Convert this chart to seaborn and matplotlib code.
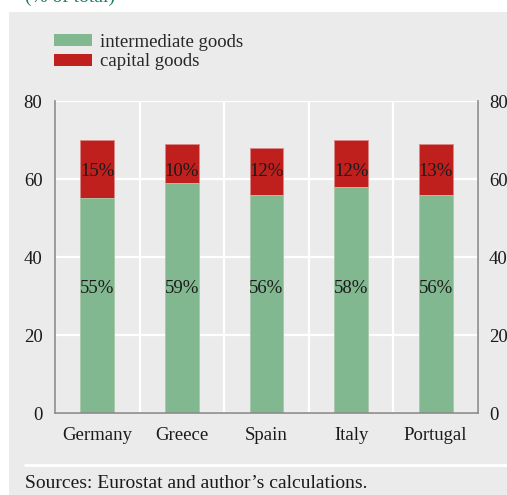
import matplotlib
matplotlib.use("Agg")
import matplotlib.pyplot as plt
from matplotlib.patches import Rectangle, Patch
from matplotlib.ticker import FixedLocator
import pandas as pd
import seaborn as sns

countries = ["Germany", "Greece", "Spain", "Italy", "Portugal"]
intermediate = [55, 59, 56, 58, 56]
capital = [15, 10, 12, 12, 13]
yticks = [0, 20, 40, 60, 80]

GREEN = "#82b890"
RED = "#c0201d"
PANEL = "#ebebeb"
SPINE = "#8c8c8c"
INK = "#1a1a1a"

sns.set_style("white")
plt.rcParams["font.family"] = ["Liberation Serif", "DejaVu Serif"]

df = pd.DataFrame({
    "country": countries,
    "intermediate": intermediate,
    "capital": capital,
})
df["total"] = df["intermediate"] + df["capital"]

W, H = 507, 495
fig = plt.figure(figsize=(W / 100, H / 100), dpi=100)
fig.patch.set_facecolor("white")

# grey panel behind everything
fig.patches.append(Rectangle((9 / W, 0), 1 - 9 / W, 1 - 12 / H,
                             transform=fig.transFigure, facecolor=PANEL,
                             edgecolor="none", zorder=-10))
fig.text(25 / W, 1 + 3 / H, "(% of total)", color="#1f7a6c", fontsize=14,
         ha="left", va="center")

ax = fig.add_axes([55 / W, 1 - 413 / H, (478 - 55) / W, (413 - 101) / H])
ax.set_facecolor(PANEL)

sns.barplot(data=df, x="country", y="total", color=RED, width=0.4,
            saturation=1, ax=ax, zorder=3, linewidth=0.6, edgecolor="#d98a88")
sns.barplot(data=df, x="country", y="intermediate", color=GREEN, width=0.4,
            saturation=1, ax=ax, zorder=4, linewidth=0.6, edgecolor="#a9d1b3")

for i, (a, b) in enumerate(zip(intermediate, capital)):
    ax.text(i, 32, f"{a}%", ha="center", va="center", fontsize=13.5,
            color=INK, zorder=6)
    ax.text(i, 61.8, f"{b}%", ha="center", va="center", fontsize=13.5,
            color=INK, zorder=6)

ax.set_xlim(-0.5, len(countries) - 0.5)
ax.set_ylim(0, 80)
ax.set_yticks(yticks)
ax.set_xlabel("")
ax.set_ylabel("")

bounds = [i - 0.5 for i in range(len(countries) + 1)]
ax.xaxis.set_minor_locator(FixedLocator(bounds))
ax.grid(False)
ax.yaxis.grid(True, color="white", linewidth=1.6, zorder=1)
ax.xaxis.grid(True, which="minor", color="white", linewidth=1.6, zorder=1)
ax.set_axisbelow(True)

ax.tick_params(axis="x", which="major", length=0, pad=10, labelsize=13.5,
               labelcolor=INK)
ax.tick_params(axis="x", which="minor", length=4, width=1, color=SPINE,
               direction="out")
ax.tick_params(axis="y", length=0, pad=9, labelsize=13.5, labelcolor=INK)

for side in ["left", "bottom", "right"]:
    ax.spines[side].set_visible(True)
    ax.spines[side].set_color(SPINE)
    ax.spines[side].set_linewidth(1.2)
    ax.spines[side].set_zorder(5)
ax.spines["top"].set_visible(False)

ax2 = ax.twinx()
ax2.set_ylim(0, 80)
ax2.set_yticks(yticks)
ax2.tick_params(axis="y", length=0, pad=8, labelsize=13.5, labelcolor=INK)
for s in ax2.spines.values():
    s.set_visible(False)

handles = [Patch(facecolor=GREEN, edgecolor="none", label="intermediate goods"),
           Patch(facecolor=RED, edgecolor="none", label="capital goods")]
fig.legend(handles=handles, loc="upper left",
           bbox_to_anchor=(54 / W, 1 - 34 / H), bbox_transform=fig.transFigure,
           frameon=False, fontsize=13.5, handlelength=2.0, handleheight=0.6,
           handletextpad=0.45, labelspacing=0.12, borderpad=0,
           borderaxespad=0)

fig.add_artist(plt.Line2D([25 / W, 1], [1 - 465 / H, 1 - 465 / H],
                          transform=fig.transFigure, color="white",
                          linewidth=2))
fig.text(25 / W, 1 - 483 / H, "Sources: Eurostat and author\u2019s calculations.",
         fontsize=14, ha="left", va="center", color=INK)

fig.savefig("out.png", dpi=100, facecolor=fig.get_facecolor())
